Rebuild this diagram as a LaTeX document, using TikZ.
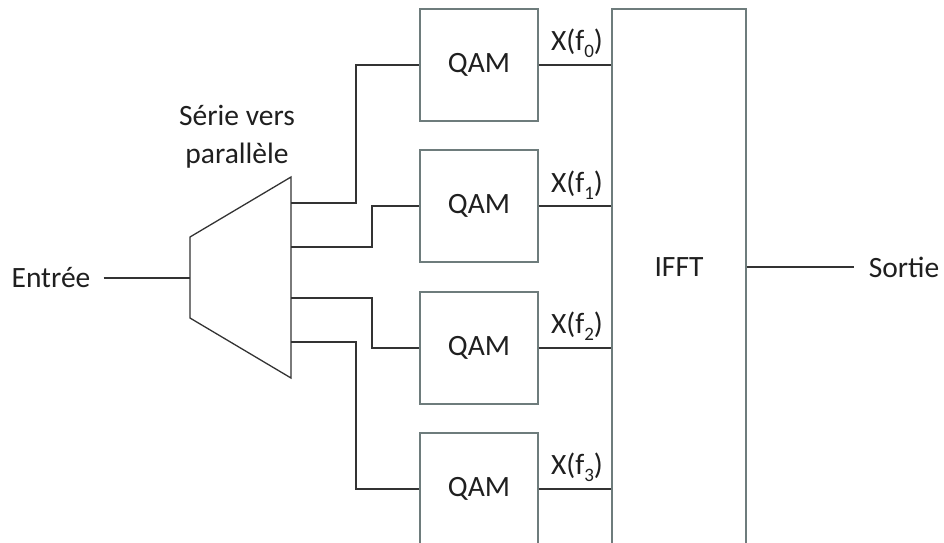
\documentclass[tikz,border=0pt]{standalone}
\usepackage{fontspec}
\setmainfont{Carlito}
\definecolor{boxc}{HTML}{6E7C7C}
\definecolor{linec}{HTML}{333333}
\newcommand\mysub[1]{\raisebox{-0.24em}{\fontsize{19}{19}\selectfont #1}}
\tikzset{
  txt/.style={font=\fontsize{29.5}{38}\selectfont, text=black!88, align=center, inner sep=2pt},
  qambox/.style={draw=boxc, line width=1.4pt, minimum width=118pt, minimum height=112pt, txt},
  bigbox/.style={draw=boxc, line width=1.4pt, minimum width=134pt, minimum height=540pt},
  wire/.style={draw=linec, line width=1.3pt},
}
\begin{document}
\begin{tikzpicture}[x=1pt,y=-1pt]
\useasboundingbox (0,0) rectangle (944,542);
\clip (0,0) rectangle (944,542);
% QAM blocks
\node[qambox] (q0) at (479,65) {QAM};
\node[qambox] (q1) at (479,206) {QAM};
\node[qambox] (q2) at (479,348) {QAM};
\node[qambox] (q3) at (479,489) {QAM};
% IFFT
\node[bigbox] (ifft) at (679,279) {};
\node[txt] (ifftlbl) at (679,267) {IFFT};
% serial to parallel trapezoid
\coordinate (tl) at (190,237);
\coordinate (tr) at (291,177);
\coordinate (br) at (291,378);
\coordinate (bl) at (190,318);
\draw[wire] (tl) -- (tr) -- (br) -- (bl) -- cycle;
\node[txt] (sp) at (237,137) {Série vers\\parallèle};
\coordinate (s0) at (291,203);
\coordinate (s1) at (291,247);
\coordinate (s2) at (291,298);
\coordinate (s3) at (291,342);
\coordinate (inpt) at (190,278);
% input / output
\node[txt] (in) at (51,278) {Entrée};
\node[txt] (out) at (904,267) {Sortie};
\draw[wire] (in.east) ++(11,0) -- (inpt);
\draw[wire] (ifft.east |- ifftlbl) -- ([xshift=-13pt]out.west);
% connections to QAM
\draw[wire] (s0) -- ++(65,0) |- (q0.west);
\draw[wire] (s1) -- ++(81,0) |- (q1.west);
\draw[wire] (s2) -- ++(81,0) |- (q2.west);
\draw[wire] (s3) -- ++(65,0) |- (q3.west);
% QAM to IFFT
\draw[wire] (q0.east) -- (ifft.west |- q0.east);
\draw[wire] (q1.east) -- (ifft.west |- q1.east);
\draw[wire] (q2.east) -- (ifft.west |- q2.east);
\draw[wire] (q3.east) -- (ifft.west |- q3.east);
\node[txt] (x0) at (577,43) {X(f\mysub{0})};
\node[txt] (x1) at (577,185) {X(f\mysub{1})};
\node[txt] (x2) at (577,326) {X(f\mysub{2})};
\node[txt] (x3) at (577,467) {X(f\mysub{3})};
\end{tikzpicture}
\end{document}
